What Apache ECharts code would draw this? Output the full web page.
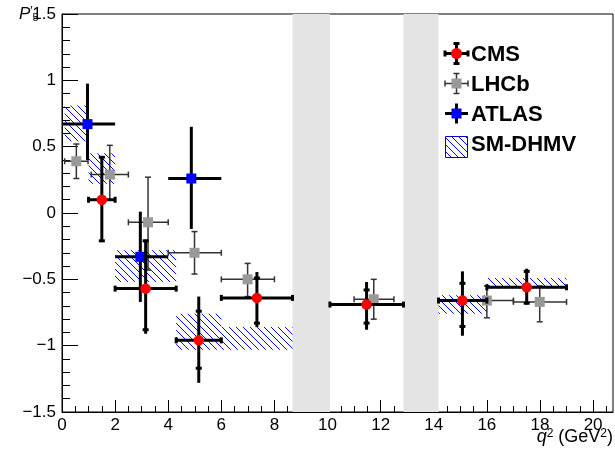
<!DOCTYPE html>
<html>
<head>
<meta charset="utf-8">
<script src="https://cdn.jsdelivr.net/npm/echarts@6/dist/echarts.min.js"></script>
<style>
  html, body { margin: 0; padding: 0; background: #fff; }
  #chart { width: 615px; height: 455px; }
</style>
</head>
<body>
<div id="chart"></div>
<script>
// Charmonium veto regions in q^2 (GeV^2)
const vetoBands = [[8.68, 10.09], [12.86, 14.18]];

// Axis ticks
const xMajorTicks = [0, 2, 4, 6, 8, 10, 12, 14, 16, 18, 20];
const xMinorTicks = [0.5, 1, 1.5, 2.5, 3, 3.5, 4.5, 5, 5.5, 6.5, 7, 7.5, 8.5, 9, 9.5,
  10.5, 11, 11.5, 12.5, 13, 13.5, 14.5, 15, 15.5, 16.5, 17, 17.5, 18.5, 19, 19.5, 20.5];

// CMS P5' (stat and total uncertainties)
const cmsX = [1.5, 3.15, 5.15, 7.34, 11.47, 15.08, 17.5];
const cmsBinLo = [1, 2, 4.3, 6, 10.09, 14.18, 16];
const cmsBinHi = [2, 4.3, 6, 8.68, 12.86, 16, 19];
const cmsP5 = [0.10, -0.57, -0.96, -0.64, -0.69, -0.66, -0.56];
const cmsStatUp = [0.32, 0.36, 0.22, 0.15, 0.11, 0.13, 0.12];
const cmsStatDn = [0.31, 0.31, 0.21, 0.19, 0.14, 0.195, 0.12];
const cmsTotUp = [0.32, 0.37, 0.33, 0.195, 0.17, 0.22, 0.14];
const cmsTotDn = [0.31, 0.34, 0.32, 0.22, 0.19, 0.265, 0.13];

// LHCb P5'
const lhcbX = [0.54, 1.8, 3.24, 4.99, 6.99, 11.74, 16.0, 17.99];
const lhcbBinLo = [0.1, 1.1, 2.5, 4, 6, 11, 15, 17];
const lhcbBinHi = [0.98, 2.5, 4, 6, 8, 12.5, 17, 19];
const lhcbP5 = [0.39, 0.29, -0.07, -0.30, -0.50, -0.65, -0.66, -0.67];
const lhcbErrUp = [0.13, 0.22, 0.34, 0.16, 0.12, 0.15, 0.11, 0.12];
const lhcbErrDn = [0.13, 0.19, 0.36, 0.16, 0.13, 0.15, 0.13, 0.15];

// ATLAS P5'
const atlasX = [0.96, 2.95, 4.87];
const atlasBinLo = [0.04, 2, 4];
const atlasBinHi = [2, 4, 6];
const atlasP5 = [0.67, -0.33, 0.26];
const atlasErrUp = [0.305, 0.34, 0.39];
const atlasErrDn = [0.27, 0.34, 0.38];

// SM prediction (DHMV) bands
const dhmvBinLo = [0.1, 1.0, 2, 4.3, 6, 14.18, 16];
const dhmvBinHi = [0.98, 2.0, 4.3, 6, 8.68, 16, 19];
const dhmvMin = [0.54, 0.22, -0.52, -1.03, -1.03, -0.76, -0.57];
const dhmvMax = [0.81, 0.45, -0.28, -0.76, -0.86, -0.62, -0.49];

const FONT = "'Liberation Sans', Arial, Helvetica, sans-serif";

// Diagonal blue hatch used for the SM bands
function makeHatch() {
  const s = 7;
  const cv = document.createElement('canvas');
  cv.width = s; cv.height = s;
  const ctx = cv.getContext('2d');
  ctx.strokeStyle = '#0000ff';
  ctx.lineWidth = 1;
  ctx.beginPath();
  ctx.moveTo(-1, -1); ctx.lineTo(s + 1, s + 1);
  ctx.moveTo(s - 1, -1); ctx.lineTo(s + 1, 1);
  ctx.moveTo(-1, s - 1); ctx.lineTo(1, s + 1);
  ctx.stroke();
  return cv;
}
const hatch = { image: makeHatch(), repeat: 'repeat' };

// Rows: [x, y, binLo, binHi, totLo, totHi, statLo, statHi]
const cmsData = cmsX.map((x, i) => [x, cmsP5[i], cmsBinLo[i], cmsBinHi[i],
  cmsP5[i] - cmsTotDn[i], cmsP5[i] + cmsTotUp[i], cmsP5[i] - cmsStatDn[i], cmsP5[i] + cmsStatUp[i]]);
const lhcbData = lhcbX.map((x, i) => [x, lhcbP5[i], lhcbBinLo[i], lhcbBinHi[i],
  lhcbP5[i] - lhcbErrDn[i], lhcbP5[i] + lhcbErrUp[i], lhcbP5[i] - lhcbErrDn[i], lhcbP5[i] + lhcbErrUp[i]]);
const atlasData = atlasX.map((x, i) => [x, atlasP5[i], atlasBinLo[i], atlasBinHi[i],
  atlasP5[i] - atlasErrDn[i], atlasP5[i] + atlasErrUp[i], null, null]);
const dhmvData = dhmvBinLo.map((lo, i) => [lo, dhmvBinHi[i], dhmvMin[i], dhmvMax[i]]);

function errorBars(opt) {
  return function (params, api) {
    const x = api.value(0), y = api.value(1);
    const c = api.coord([x, y]);
    const xl = api.coord([api.value(2), y])[0];
    const xh = api.coord([api.value(3), y])[0];
    const yl = api.coord([x, api.value(4)])[1];
    const yh = api.coord([x, api.value(5)])[1];
    const ln = { stroke: opt.stroke, lineWidth: opt.width };
    const kids = [
      { type: 'line', shape: { x1: xl, y1: c[1], x2: xh, y2: c[1] }, style: ln },
      { type: 'line', shape: { x1: c[0], y1: yl, x2: c[0], y2: yh }, style: ln }
    ];
    const h = opt.cap;
    if (h) {
      kids.push({ type: 'line', shape: { x1: xl, y1: c[1] - h, x2: xl, y2: c[1] + h }, style: ln });
      kids.push({ type: 'line', shape: { x1: xh, y1: c[1] - h, x2: xh, y2: c[1] + h }, style: ln });
      const s1 = api.value(6), s2 = api.value(7);
      if (s1 != null && !isNaN(s1)) {
        const sl = api.coord([x, s1])[1], sh = api.coord([x, s2])[1];
        kids.push({ type: 'line', shape: { x1: c[0] - h, y1: sl, x2: c[0] + h, y2: sl }, style: ln });
        kids.push({ type: 'line', shape: { x1: c[0] - h, y1: sh, x2: c[0] + h, y2: sh }, style: ln });
      }
    }
    if (opt.marker === 'circle') {
      kids.push({ type: 'circle', shape: { cx: c[0], cy: c[1], r: opt.size / 2 }, style: { fill: opt.fill } });
    } else {
      kids.push({ type: 'rect', shape: { x: c[0] - opt.size / 2, y: c[1] - opt.size / 2, width: opt.size, height: opt.size }, style: { fill: opt.fill } });
    }
    return { type: 'group', children: kids };
  };
}

function bandRender(params, api) {
  const p1 = api.coord([api.value(0), api.value(3)]);
  const p2 = api.coord([api.value(1), api.value(2)]);
  return {
    type: 'rect',
    shape: { x: p1[0], y: p1[1], width: p2[0] - p1[0], height: p2[1] - p1[1] },
    style: { fill: hatch }
  };
}

const chart = echarts.init(document.getElementById('chart'), null, { renderer: 'canvas' });

const axisBlack = { lineStyle: { color: '#000', width: 1 } };

// Legend glyphs and axis titles
const legendX = 456.5, legendTextX = 471;
const legendRows = [53.5, 83.5, 113.5, 143.5];
function legendBars(cy, stroke, w, capLen) {
  const st = { stroke: stroke, lineWidth: w };
  const g = [
    { type: 'line', shape: { x1: 445, y1: cy, x2: 468, y2: cy }, style: st },
    { type: 'line', shape: { x1: legendX, y1: cy - 10, x2: legendX, y2: cy + 10 }, style: st }
  ];
  if (capLen) {
    g.push({ type: 'line', shape: { x1: 445, y1: cy - capLen, x2: 445, y2: cy + capLen }, style: st });
    g.push({ type: 'line', shape: { x1: 468, y1: cy - capLen, x2: 468, y2: cy + capLen }, style: st });
    g.push({ type: 'line', shape: { x1: legendX - capLen, y1: cy - 10, x2: legendX + capLen, y2: cy - 10 }, style: st });
    g.push({ type: 'line', shape: { x1: legendX - capLen, y1: cy + 10, x2: legendX + capLen, y2: cy + 10 }, style: st });
  }
  return g;
}
const legendLabels = ['CMS', 'LHCb', 'ATLAS', 'SM-DHMV'];
const graphics = [].concat(
  legendBars(legendRows[0], '#000', 3, 3),
  [{ type: 'circle', shape: { cx: legendX, cy: legendRows[0], r: 5.5 }, style: { fill: '#ff0000' } }],
  legendBars(legendRows[1], '#333', 1.5, 3),
  [{ type: 'rect', shape: { x: legendX - 5, y: legendRows[1] - 5, width: 10, height: 10 }, style: { fill: '#999999' } }],
  legendBars(legendRows[2], '#000', 3, 0),
  [{ type: 'rect', shape: { x: legendX - 5, y: legendRows[2] - 5, width: 10, height: 10 }, style: { fill: '#0000ff' } }],
  [{ type: 'rect', shape: { x: 445.5, y: 136.5, width: 22, height: 21 }, style: { fill: hatch, stroke: '#0000cc', lineWidth: 1 } }],
  legendLabels.map((t, i) => ({
    type: 'text', x: legendTextX, y: legendRows[i] + 1,
    style: { text: t, font: 'bold 22px ' + FONT, fill: '#000', align: 'left', verticalAlign: 'middle' }
  })),
  [
    {
      type: 'text', right: 2, top: 428,
      style: {
        text: '{i|q}{s|2} (GeV{s|2})',
        font: '18px ' + FONT, fill: '#000',
        rich: {
          i: { fontStyle: 'italic', fontSize: 18, fontFamily: FONT },
          s: { fontSize: 12, verticalAlign: 'top', fontFamily: FONT }
        }
      }
    },
    {
      type: 'text', left: 19, top: 6,
      style: {
        text: "{i|P}{p|′}{s|5}",
        font: '17px ' + FONT, fill: '#000',
        rich: {
          i: { fontStyle: 'italic', fontSize: 17, fontFamily: FONT },
          p: { fontSize: 12, verticalAlign: 'top', fontFamily: FONT },
          s: { fontSize: 11, verticalAlign: 'bottom', fontFamily: FONT }
        }
      }
    }
  ]
);

const fmtNum = v => (v < 0 ? '\u2212' + String(Math.abs(v)) : String(v));

chart.setOption({
  animation: false,
  backgroundColor: '#fff',
  grid: { left: 62, right: 2, top: 14, bottom: 43, show: true, borderColor: '#000', borderWidth: 1, backgroundColor: 'transparent' },
  xAxis: [
    {
      type: 'value', min: 0, max: 20.75, position: 'bottom',
      axisLine: { onZero: false, ...axisBlack },
      axisTick: { inside: true, length: 12, customValues: xMajorTicks, ...axisBlack },
      axisLabel: { customValues: xMajorTicks, color: '#000', fontSize: 17, fontFamily: FONT, margin: 5, formatter: fmtNum },
      splitLine: { show: false }
    },
    {
      type: 'value', min: 0, max: 20.75, position: 'bottom', offset: 0,
      axisLine: { show: false, onZero: false },
      axisTick: { inside: true, length: 6, customValues: xMinorTicks, ...axisBlack },
      axisLabel: { show: false },
      splitLine: { show: false }
    }
  ],
  yAxis: {
    type: 'value', min: -1.5, max: 1.5, interval: 0.5,
    axisLine: { onZero: false, ...axisBlack },
    axisTick: { inside: true, length: 16, ...axisBlack },
    minorTick: { show: true, splitNumber: 5, length: 8, ...axisBlack },
    axisLabel: { color: '#000', fontSize: 17, fontFamily: FONT, margin: 6, formatter: fmtNum },
    splitLine: { show: false }
  },
  series: [
    {
      type: 'custom', name: 'veto', xAxisIndex: 0,
      data: vetoBands,
      renderItem: (params, api) => {
        const a = api.coord([api.value(0), 1.5]);
        const b = api.coord([api.value(1), -1.5]);
        return { type: 'rect', shape: { x: a[0], y: a[1], width: b[0] - a[0], height: b[1] - a[1] }, style: { fill: '#e4e4e4' } };
      },
      silent: true, z: 1
    },
    { type: 'custom', name: 'SM-DHMV', data: dhmvData, renderItem: bandRender, z: 2 },
    {
      type: 'custom', name: 'LHCb', data: lhcbData, z: 3,
      renderItem: errorBars({ stroke: '#333', width: 1.5, cap: 3, marker: 'rect', size: 10, fill: '#999999' })
    },
    {
      type: 'custom', name: 'ATLAS', data: atlasData, z: 4,
      renderItem: errorBars({ stroke: '#000', width: 3, cap: 0, marker: 'rect', size: 10, fill: '#0000ff' })
    },
    {
      type: 'custom', name: 'CMS', data: cmsData, z: 5,
      renderItem: errorBars({ stroke: '#000', width: 3, cap: 3, marker: 'circle', size: 10.5, fill: '#ff0000' })
    }
  ],
  graphic: graphics
});
</script>
</body>
</html>
